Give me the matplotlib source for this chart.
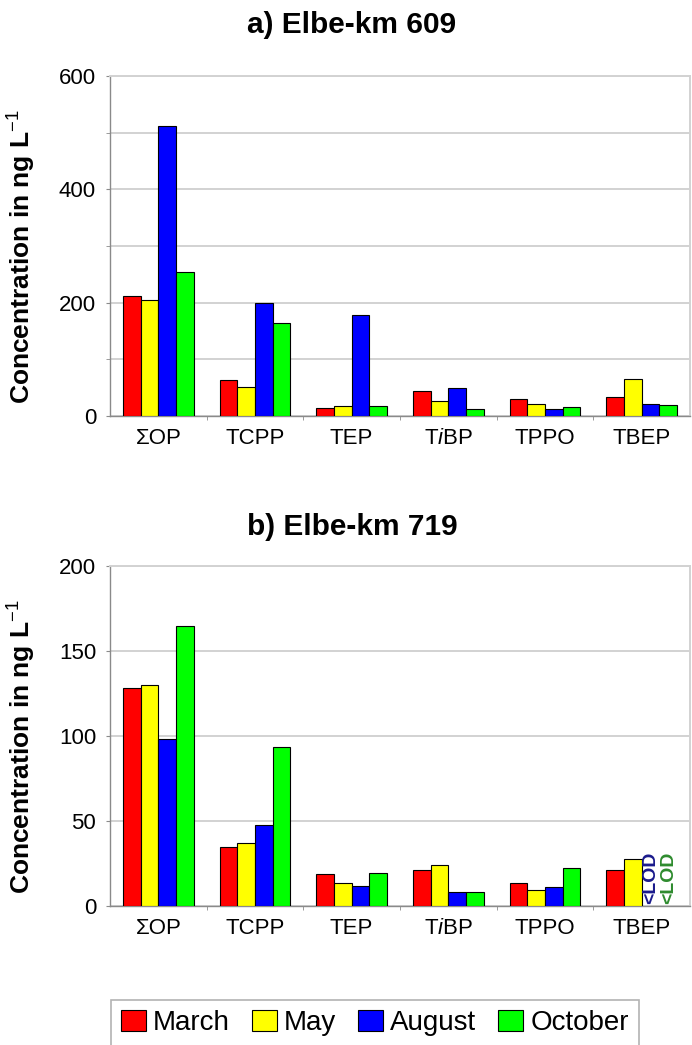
import numpy as np
import matplotlib
matplotlib.use("Agg")
import matplotlib.pyplot as plt
from matplotlib.ticker import MultipleLocator, FixedLocator

plt.rcParams['font.family'] = ['Liberation Sans', 'DejaVu Sans']
plt.rcParams['mathtext.fontset'] = 'custom'
plt.rcParams['mathtext.rm'] = 'Liberation Sans'
plt.rcParams['mathtext.it'] = 'Liberation Sans:italic'
plt.rcParams['mathtext.bf'] = 'Liberation Sans:bold'

# data (ng/L)
compounds = ['ΣOP', 'TCPP', 'TEP', r'T$\mathit{i}$BP', 'TPPO', 'TBEP']
months = ['March', 'May', 'August', 'October']
colors = ['#ff0000', '#ffff00', '#0000ff', '#00ff00']

km609_march = [212, 64, 14, 45, 30, 33]
km609_may = [205, 52, 18, 26, 22, 66]
km609_august = [512, 200, 179, 50, 12, 22]
km609_october = [255, 164, 18, 12, 16, 19]

km719_march = [128, 35, 19, 21, 13.7, 21]
km719_may = [130, 37, 13.7, 24, 9.2, 27.8]
km719_august = [98, 47.5, 12, 8.2, 11.4, np.nan]
km719_october = [165, 93.5, 19.5, 8.2, 22.5, np.nan]

lod_labels = [('August', '<LOD', '#1a1a8c'), ('October', '<LOD', '#2e8b2e')]

W, H = 692, 1045
fig = plt.figure(figsize=(W / 100, H / 100), dpi=100)

x = np.arange(len(compounds))
bw = 0.183
offsets = (np.arange(4) - 1.5) * bw


def style_axes(ax, ymax, major, minor):
    ax.set_xlim(-0.5, len(compounds) - 0.5)
    ax.set_ylim(0, ymax)
    ax.yaxis.set_major_locator(MultipleLocator(major))
    ax.yaxis.set_minor_locator(MultipleLocator(minor))
    ax.grid(axis='y', which='both', color='#d2d2d2', lw=1.4, zorder=0)
    ax.set_axisbelow(True)
    for s in ['top', 'right']:
        ax.spines[s].set_color('#d2d2d2')
        ax.spines[s].set_linewidth(1.4)
    for s in ['left', 'bottom']:
        ax.spines[s].set_color('#8a8a8a')
        ax.spines[s].set_linewidth(1.0)
    ax.set_xticks(x)
    ax.set_xticklabels(compounds, fontsize=16)
    ax.xaxis.set_minor_locator(FixedLocator(x[:-1] + 0.5))
    ax.tick_params(axis='x', which='major', length=0, pad=9)
    ax.tick_params(axis='x', which='minor', length=3, color='#8a8a8a')
    ax.tick_params(axis='y', which='both', length=3, color='#8a8a8a',
                   labelsize=16, pad=7)
    ax.set_ylabel('Concentration in ng L$^{-1}$', fontsize=19,
                  fontweight='bold')
    ax.yaxis.set_label_coords(-0.124, 0.47)


def draw(ax, series):
    bars = []
    for i, vals in enumerate(series):
        b = ax.bar(x + offsets[i], vals, bw, color=colors[i], edgecolor='black',
                   linewidth=0.8, label=months[i], zorder=3)
        bars.append(b)
    return bars


ax1 = fig.add_axes([110 / W, 1 - 416 / H, 580 / W, 340 / H])
draw(ax1, [km609_march, km609_may, km609_august, km609_october])
style_axes(ax1, 600, 200, 100)

ax2 = fig.add_axes([110 / W, 1 - 906 / H, 580 / W, 340 / H])
bars = draw(ax2, [km719_march, km719_may, km719_august, km719_october])
style_axes(ax2, 200, 50, 50)

# <LOD marks for TBEP at km 719
for month, txt, col in lod_labels:
    i = months.index(month)
    ax2.text(x[-1] + offsets[i], 1.2, txt, rotation=90, ha='center', va='bottom',
             fontsize=14, fontweight='bold', color=col, zorder=4)

fig.text(352 / W, 1 - 33 / H, 'a) Elbe-km 609', ha='center', va='baseline',
         fontsize=21.5, fontweight='bold')
fig.text(352 / W, 1 - 535 / H, 'b) Elbe-km 719', ha='center', va='baseline',
         fontsize=21.5, fontweight='bold')

leg = fig.legend(handles=bars, labels=months, loc='upper left',
                 bbox_to_anchor=(111 / W, 1 - 1000 / H), ncol=4, fontsize=20,
                 frameon=True, fancybox=False, edgecolor='#a0a0a0',
                 handlelength=0.9, handleheight=0.8, handletextpad=0.25,
                 columnspacing=0.8, borderpad=0.35, borderaxespad=0)
leg.get_frame().set_linewidth(1.2)

fig.savefig('out.png', dpi=100)
